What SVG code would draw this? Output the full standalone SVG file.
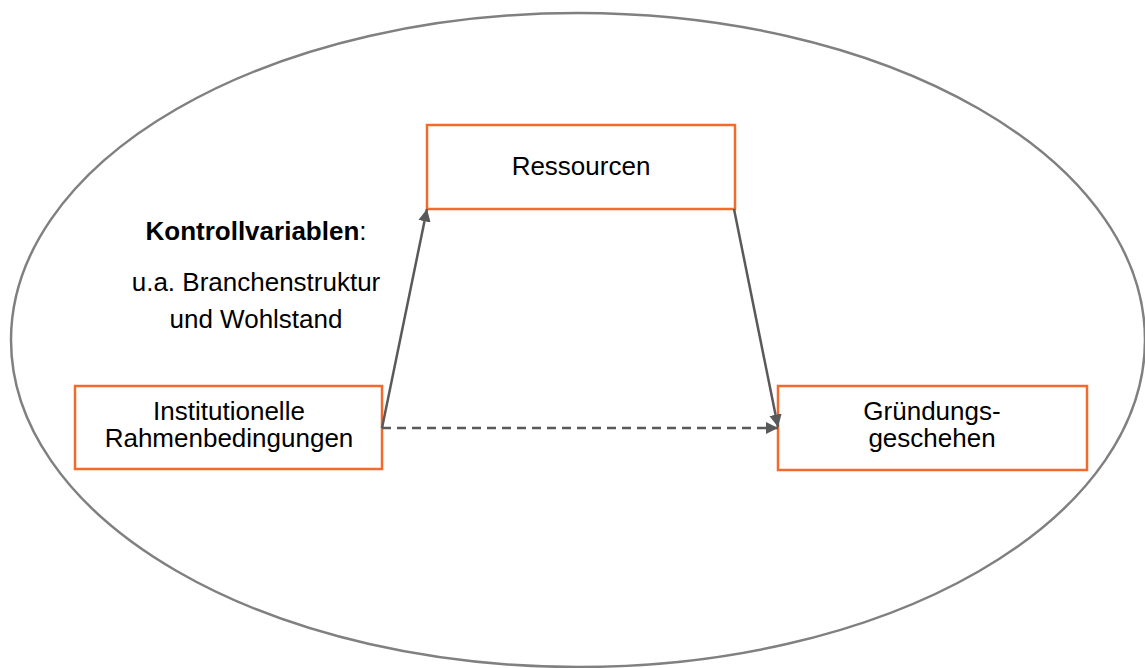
<svg xmlns="http://www.w3.org/2000/svg" width="1145" height="668" viewBox="0 0 1145 668">
<style>
.box{fill:#fff;stroke:#F26A2C;stroke-width:2.5}
.t{font-family:"Liberation Sans",Arial,sans-serif;font-size:26px;fill:#000;text-anchor:middle}
.c{stroke:#595959;stroke-width:2.5;fill:none}
</style>
<defs>
<marker id="ah" viewBox="0 0 10 10" refX="10" refY="5" markerWidth="5" markerHeight="5" orient="auto" markerUnits="strokeWidth">
<path d="M0,0 L10,5 L0,10 z" fill="#595959"/>
</marker>
</defs>
<ellipse cx="578" cy="340" rx="567" ry="327" fill="none" stroke="#808080" stroke-width="2.5"/>
<g id="kontroll">
<text class="t" x="256" y="240"><tspan font-weight="bold">Kontrollvariablen</tspan>:</text>
<text class="t" x="256" y="291">u.a. Branchenstruktur</text>
<text class="t" x="256" y="328">und Wohlstand</text>
</g>
<g id="ressourcen">
<rect class="box" x="427" y="125" width="308" height="84"/>
<text class="t" x="581" y="175">Ressourcen</text>
</g>
<g id="institutionelle">
<rect class="box" x="75" y="386" width="307" height="83"/>
<text class="t" x="229" y="420">Institutionelle</text>
<text class="t" x="229" y="447">Rahmenbedingungen</text>
</g>
<g id="gruendung">
<rect class="box" x="778" y="386" width="309" height="84"/>
<text class="t" x="932" y="420">Gründungs-</text>
<text class="t" x="932" y="447">geschehen</text>
</g>
<g id="connectors">
<line class="c" x1="382" y1="428" x2="427" y2="209" marker-end="url(#ah)"/>
<line class="c" x1="734" y1="209" x2="778" y2="427" marker-end="url(#ah)"/>
<line class="c" x1="382" y1="428" x2="778" y2="428" stroke-dasharray="9,6" marker-end="url(#ah)"/>
</g>
</svg>
